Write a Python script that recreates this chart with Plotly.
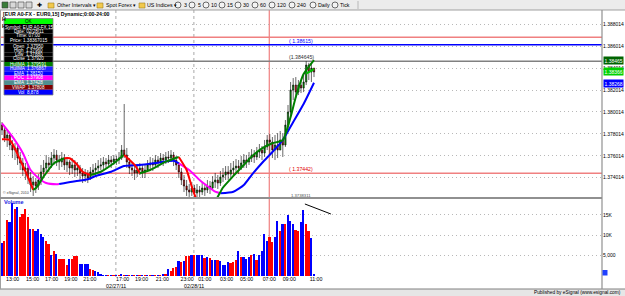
import plotly.graph_objects as go

# ---------------- data (15-minute bars, EUR A0-FX) ----------------
bar_index = list(range(121))

opens = [1.37882,1.37837,1.37764,1.37791,1.37700,1.37654,1.37673,1.37581,1.37536,1.37472,
         1.37490,1.37399,1.37335,1.37363,1.37326,1.37381,1.37454,1.37490,1.37536,1.37518,
         1.37581,1.37609,1.37563,1.37545,1.37581,1.37518,1.37545,1.37490,1.37518,1.37472,
         1.37490,1.37445,1.37417,1.37435,1.37399,1.37454,1.37472,1.37490,1.37508,1.37518,
         1.37545,1.37527,1.37563,1.37545,1.37572,1.37563,1.37581,1.37654,1.37609,1.37545,
         1.37490,1.37472,1.37445,1.37472,1.37490,1.37454,1.37472,1.37518,1.37536,1.37518,
         1.37563,1.37545,1.37581,1.37563,1.37591,1.37581,1.37609,1.37563,1.37518,1.37454,
         1.37381,1.37326,1.37290,1.37271,1.37308,1.37262,1.37290,1.37271,1.37308,1.37290,
         1.37326,1.37308,1.37363,1.37381,1.37353,1.37408,1.37426,1.37454,1.37435,1.37472,
         1.37490,1.37508,1.37490,1.37536,1.37563,1.37545,1.37581,1.37609,1.37591,1.37636,
         1.37654,1.37627,1.37682,1.37746,1.37727,1.37654,1.37700,1.37654,1.37746,1.37700,
         1.37882,1.38001,1.38202,1.38247,1.38183,1.38247,1.38220,1.38275,1.38430,1.38366,1.38402]
highs = [1.37910,1.37864,1.37837,1.37809,1.37746,1.37718,1.37700,1.37636,1.37581,1.37536,
         1.37518,1.37454,1.37417,1.37399,1.37435,1.37518,1.37563,1.37609,1.37591,1.37636,
         1.37663,1.37654,1.37609,1.37636,1.37618,1.37591,1.37563,1.37581,1.37563,1.37545,
         1.37518,1.37490,1.37481,1.37472,1.37499,1.37527,1.37536,1.37563,1.37581,1.37591,
         1.37581,1.37609,1.37600,1.37609,1.37600,1.37636,1.37700,1.38074,1.37673,1.37581,
         1.37536,1.37518,1.37527,1.37536,1.37518,1.37527,1.37563,1.37591,1.37581,1.37609,
         1.37600,1.37627,1.37618,1.37636,1.37645,1.37654,1.37636,1.37600,1.37545,1.37490,
         1.37426,1.37381,1.37344,1.37363,1.37335,1.37344,1.37326,1.37363,1.37344,1.37381,
         1.37372,1.37417,1.37445,1.37426,1.37463,1.37490,1.37508,1.37508,1.37536,1.37554,
         1.37572,1.37563,1.37600,1.37618,1.37609,1.37636,1.37663,1.37654,1.37682,1.37709,
         1.37691,1.37746,1.37791,1.37800,1.37773,1.37791,1.37809,1.37828,1.37809,1.37928,
         1.38065,1.38275,1.38311,1.38320,1.38293,1.38293,1.38338,1.38465,1.38450,1.38448,1.38402]
lows = [1.37791,1.37727,1.37682,1.37654,1.37581,1.37563,1.37518,1.37472,1.37417,1.37381,
        1.37344,1.37271,1.37235,1.37262,1.37290,1.37335,1.37399,1.37454,1.37454,1.37490,
        1.37518,1.37508,1.37472,1.37499,1.37472,1.37454,1.37426,1.37435,1.37408,1.37417,
        1.37381,1.37353,1.37363,1.37353,1.37381,1.37408,1.37426,1.37445,1.37472,1.37472,
        1.37481,1.37499,1.37490,1.37518,1.37518,1.37527,1.37563,1.37581,1.37490,1.37435,
        1.37417,1.37381,1.37408,1.37426,1.37399,1.37399,1.37454,1.37472,1.37463,1.37490,
        1.37490,1.37518,1.37508,1.37527,1.37536,1.37545,1.37508,1.37472,1.37399,1.37335,
        1.37271,1.37235,1.37226,1.37235,1.37226,1.37226,1.37226,1.37244,1.37235,1.37262,
        1.37253,1.37290,1.37308,1.37299,1.37326,1.37363,1.37381,1.37381,1.37399,1.37426,
        1.37445,1.37435,1.37472,1.37490,1.37490,1.37518,1.37545,1.37536,1.37563,1.37581,
        1.37563,1.37591,1.37654,1.37609,1.37581,1.37563,1.37581,1.37654,1.37591,1.37682,
        1.37837,1.37974,1.38110,1.38129,1.38156,1.38174,1.38183,1.38247,1.38293,1.38275,1.38320]
closes = [1.37837,1.37764,1.37791,1.37700,1.37654,1.37673,1.37581,1.37536,1.37472,1.37490,
          1.37399,1.37335,1.37363,1.37326,1.37381,1.37454,1.37490,1.37536,1.37518,1.37581,
          1.37609,1.37563,1.37545,1.37581,1.37518,1.37545,1.37490,1.37518,1.37472,1.37490,
          1.37445,1.37417,1.37435,1.37399,1.37454,1.37472,1.37490,1.37508,1.37518,1.37545,
          1.37527,1.37563,1.37545,1.37572,1.37563,1.37581,1.37654,1.37609,1.37545,1.37490,
          1.37472,1.37445,1.37472,1.37490,1.37454,1.37472,1.37518,1.37536,1.37518,1.37563,
          1.37545,1.37581,1.37563,1.37591,1.37581,1.37609,1.37563,1.37518,1.37454,1.37381,
          1.37326,1.37290,1.37271,1.37308,1.37262,1.37290,1.37271,1.37308,1.37290,1.37326,
          1.37308,1.37363,1.37381,1.37353,1.37408,1.37426,1.37454,1.37435,1.37472,1.37490,
          1.37508,1.37490,1.37536,1.37563,1.37545,1.37581,1.37609,1.37591,1.37636,1.37654,
          1.37627,1.37682,1.37746,1.37727,1.37654,1.37700,1.37654,1.37746,1.37700,1.37882,
          1.38001,1.38202,1.38247,1.38183,1.38247,1.38220,1.38275,1.38430,1.38366,1.38402,1.38366]

volumes = [8050,8540,13740,13170,17800,16420,16830,14390,15200,16420,
           14390,11540,11540,11140,11540,10330,9510,8700,7890,5040,
           6020,5450,4230,4230,4230,2600,4230,4230,4800,4880,
           2850,2850,2850,2850,1630,1545,1220,975,325,150,
           120,90,150,80,200,110,250,140,100,130,
           90,160,120,180,100,140,220,130,160,110,
           190,150,300,420,1790,1300,2030,2200,3660,3410,
           3740,4800,4800,5040,5040,5040,5040,5040,4310,4630,
           4390,3980,3980,3980,3660,2680,2760,3410,3250,3410,
           3820,6020,4630,4630,4230,4630,5040,5280,3820,5040,
           6020,10330,8700,9510,8290,9510,13580,11140,12760,12760,
           15040,13580,12760,11300,11140,13170,16180,12760,11140,9270,300]
vol_dir = ("brrbbrbrrr" "rbrbbbbrrb" "rbrrrrbrrr" "bbbbrrbbbb"
           "brbrbrbrbr" "brbrbrbrbr" "brbrbrrrbr" "brrbrbbbrb"
           "rbbrbbbbrr" "rbrbbbrbrb" "bbbrrbbrbr" "bbbrrbbrrbb")

# Hull MA (green rising / red falling)
hull_x = [0, 3, 7, 11, 12, 13, 16, 20, 24, 26, 29, 31, 34, 38, 43, 46, 47, 51, 53, 57,
          63, 68, 71, 73, 75, 78, 80, 82, 85, 89, 93, 96, 100, 104, 108, 111, 113, 116, 120]
hull_y = [1.37752, 1.37746, 1.37563, 1.37351, 1.37290, 1.37305, 1.37411, 1.37533, 1.37579,
          1.37579, 1.37518, 1.37456, 1.37426, 1.37456, 1.37533, 1.37593, 1.37609, 1.37518,
          1.37442, 1.37472, 1.37548, 1.37591, 1.37472, 1.37320, 1.37199, 1.37154, 1.37163,
          1.37190, 1.37312, 1.37418, 1.37518, 1.37594, 1.37670, 1.37716, 1.37746, 1.37955,
          1.38138, 1.38348, 1.38475]
hull_dir = "rrrr" "gggg" "rrrr" "gggg" "rr" "ggg" "rrrr" "ggggggggggggg"

# slow average (blue rising / magenta falling)
slow_x = [0, 4, 8, 11, 14, 17, 21, 22, 27, 33, 36, 42, 47, 53, 60, 66, 68, 72, 76, 80,
          82, 84, 89, 93, 96, 100, 104, 108, 112, 116, 120]
slow_y = [1.37898, 1.37776, 1.37627, 1.37472, 1.37399, 1.37353, 1.37342, 1.37344, 1.37365,
          1.37387, 1.37417, 1.37456, 1.37508, 1.37518, 1.37539, 1.37557, 1.37533, 1.37472,
          1.37381, 1.37308, 1.37274, 1.37260, 1.37274, 1.37335, 1.37426, 1.37536, 1.37636,
          1.37746, 1.37910, 1.38074, 1.38268]
slow_dir = "mmmmmmm" "bbbbbbbbb" "mmmmm" "bbbbbbbbb"

fast_tail_x = [117, 120]
fast_tail_y = [1.38352, 1.38392]

level_prices = [1.38683, 1.38615, 1.384645, 1.37442]
level_colors = ["#f08080", "#0000ff", "#808080", "#f08080"]

price_ticks = [1.374014, 1.376014, 1.378014, 1.380014, 1.382014, 1.384014, 1.386014, 1.388014]
vol_ticks = [5000, 10000, 15000]
vol_tick_text = ["5,000", "10K", "15K"]

time_ticks = [4.1, 11.8, 19.1, 26.5, 33.8, 46.4, 53.7, 61.7, 71.2, 78.0, 86.4, 94.1, 102.8, 110.5, 120.8]
time_labels = ["13:00", "15:00", "17:00", "19:00", "21:00", "17:00", "19:00", "21:00",
               "23:00", "01:00", "03:00", "05:00", "07:00", "09:00", "11:00"]
day_breaks = [43.8, 73.8]
day_labels = ["02/27/11", "02/28/11"]
session_line = 102.8

trend_x = [116.5, 126.5]
trend_v = [17650, 15200]

# ---------------- geometry helpers (layout only) ----------------
W, H = 625, 296
ML, MR, MT, MB = 0, 23, 10, 20
PW, PH = W - ML - MR, H - MT - MB
FONT = "Liberation Sans, Arial, sans-serif"
GRID = "#b8b8b8"


def X(px):
    return (px - ML) / PW


def Y(py):
    return (H - MB - py) / PH


SPLIT = Y(198)

fig = go.Figure()

fig.add_trace(go.Candlestick(
    x=bar_index, open=opens, high=highs, low=lows, close=closes,
    xaxis="x", yaxis="y", whiskerwidth=0, hoverinfo="skip",
    increasing=dict(line=dict(color="#000000", width=0.6), fillcolor="#00b000"),
    decreasing=dict(line=dict(color="#000000", width=0.6), fillcolor="#e00000"),
))

cmap = {"r": "#ff0000", "g": "#008000", "m": "#ff00ff", "b": "#0000ff"}


def add_colored_line(xs, ys, codes, width):
    n = len(codes)
    k = 0
    while k < n:
        j = k
        while j + 1 < n and codes[j + 1] == codes[k]:
            j += 1
        fig.add_trace(go.Scatter(x=xs[k:j + 2], y=ys[k:j + 2], mode="lines",
                                 line=dict(color=cmap[codes[k]], width=width, shape="spline", smoothing=0.6),
                                 xaxis="x", yaxis="y", hoverinfo="skip"))
        k = j + 1


add_colored_line(slow_x, slow_y, slow_dir, 2)
add_colored_line(hull_x, hull_y, hull_dir, 2)
fig.add_trace(go.Scatter(x=fast_tail_x, y=fast_tail_y, mode="lines",
                         line=dict(color="#00c000", width=2), xaxis="x", yaxis="y", hoverinfo="skip"))

fig.add_trace(go.Bar(
    x=bar_index, y=volumes, xaxis="x", yaxis="y2", width=0.62, hoverinfo="skip",
    marker=dict(color=["#0000ff" if d == "b" else "#ff0000" for d in vol_dir], line=dict(width=0)),
))

shapes = []
# toolbar background
shapes.append(dict(type="rect", xref="paper", yref="paper", x0=X(0), x1=X(625), y0=Y(10), y1=Y(0),
                   fillcolor="#ececec", line=dict(width=0), layer="above"))
shapes.append(dict(type="line", xref="paper", yref="paper", x0=X(0), x1=X(625), y0=Y(10), y1=Y(10),
                   line=dict(color="#a0a0a0", width=1), layer="above"))
shapes.append(dict(type="line", xref="paper", yref="paper", x0=X(358), x1=X(358), y0=Y(1), y1=Y(9),
                   line=dict(color="#b8b8b8", width=1), layer="above"))
# status bar
shapes.append(dict(type="rect", xref="paper", yref="paper", x0=X(0), x1=X(625), y0=Y(296), y1=Y(289),
                   fillcolor="#e6e6e6", line=dict(width=0), layer="above"))
shapes.append(dict(type="line", xref="paper", yref="paper", x0=X(0), x1=X(625), y0=Y(289), y1=Y(289),
                   line=dict(color="#808080", width=1), layer="above"))
# right axis line and left border
shapes.append(dict(type="line", xref="paper", yref="paper", x0=X(602), x1=X(602), y0=Y(289), y1=Y(10),
                   line=dict(color="#909090", width=1.2), layer="above"))
shapes.append(dict(type="line", xref="paper", yref="paper", x0=X(0.5), x1=X(0.5), y0=Y(289), y1=Y(10),
                   line=dict(color="#a0a0a0", width=1), layer="above"))
# pane separator
shapes.append(dict(type="line", xref="paper", yref="paper", x0=0, x1=X(602), y0=SPLIT, y1=SPLIT,
                   line=dict(color="#909090", width=2), layer="above"))
# day separators and session line
for d in day_breaks:
    shapes.append(dict(type="line", xref="x", yref="paper", x0=d, x1=d, y0=Y(277), y1=Y(10),
                       line=dict(color="#a8a8a8", width=1, dash="3px,3px"), layer="below"))
shapes.append(dict(type="line", xref="x", yref="paper", x0=session_line, x1=session_line, y0=0, y1=Y(10),
                   line=dict(color="#f08080", width=1.2), layer="below"))
# horizontal levels
for p, c in zip(level_prices, level_colors):
    shapes.append(dict(type="line", xref="paper", yref="y", x0=0, x1=1, y0=p, y1=p,
                       line=dict(color=c, width=1.5), layer="below"))
# trend line in volume pane
shapes.append(dict(type="line", xref="x", yref="y2", x0=trend_x[0], x1=trend_x[1], y0=trend_v[0], y1=trend_v[1],
                   line=dict(color="#000000", width=1), layer="above"))

# toolbar icons
for x0, c in [(2, "#3a7d3a"), (10, "#d8d8d8"), (18, "#d8d8d8"), (26, "#d8d8d8")]:
    shapes.append(dict(type="rect", xref="paper", yref="paper", x0=X(x0), x1=X(x0 + 6), y0=Y(8), y1=Y(2),
                       fillcolor=c, line=dict(color="#404040", width=0.6), layer="above"))
for x0 in [48, 97, 139]:
    shapes.append(dict(type="rect", xref="paper", yref="paper", x0=X(x0), x1=X(x0 + 6), y0=Y(8), y1=Y(3),
                       fillcolor="#f2c94c", line=dict(color="#a08020", width=0.6), layer="above"))
for cx in [178, 192, 206, 222, 238, 255, 272, 292, 313, 335]:
    shapes.append(dict(type="circle", xref="paper", yref="paper", x0=X(cx - 3), x1=X(cx + 3), y0=Y(8), y1=Y(2),
                       fillcolor="#f4f4f4", line=dict(color="#303030", width=0.7), layer="above"))

# data-window legend box
legend_rows = [
    (21.3, 18.5, 24.0, "#00ff00", "OK", "#000000"),
    (27.0, 24.0, 29.3, "#000000", "Symbol: EUR A0-FX,15", "#ffffff"),
    (31.5, 29.3, 33.7, "#000000", "Date: 02/28/11", "#ffffff"),
    (35.7, 33.7, 37.9, "#000000", "Time: 07:00", "#ffffff"),
    (40.0, 37.9, 43.5, "#000000", "Price: 1.38367015", "#ffffff"),
    (46.0, 43.5, 48.0, "#000000", "Open  1.37950", "#ffffff"),
    (50.0, 48.0, 52.2, "#000000", "High  1.37960", "#ffffff"),
    (54.3, 52.2, 56.5, "#000000", "Low  1.37880", "#ffffff"),
    (58.7, 56.5, 62.0, "#000000", "Close  1.37920", "#ffffff"),
    (64.3, 62.0, 66.6, "#008000", "HullMA  1.379591", "#ffffff"),
    (68.9, 66.6, 71.2, "#2020ff", "HullMA  1.376867", "#ffffff"),
    (73.4, 71.2, 75.6, "#0000ff", "EMA  1.38150", "#ffffff"),
    (77.8, 75.6, 80.2, "#ff00ff", "POC  1.37908", "#ffffff"),
    (82.6, 80.2, 85.0, "#4f8f8f", "EMA  1.37428", "#ffffff"),
    (87.4, 85.0, 89.8, "#800000", "VWAP  1.37808", "#ffffff"),
    (92.5, 89.8, 95.0, "#0000ff", "Vol  8,878", "#ffffff"),
]
for _, y0, y1, bg, _, _ in legend_rows:
    shapes.append(dict(type="rect", xref="paper", yref="paper", x0=X(4), x1=X(53), y0=Y(y1), y1=Y(y0),
                       fillcolor=bg, line=dict(width=0), layer="above"))
shapes.append(dict(type="rect", xref="paper", yref="paper", x0=X(4), x1=X(53), y0=Y(95), y1=Y(18.5),
                   fillcolor="rgba(0,0,0,0)", line=dict(color="#808080", width=0.8), layer="above"))
# small blue icon bottom-right
shapes.append(dict(type="rect", xref="paper", yref="paper", x0=X(602.5), x1=X(607.5), y0=Y(275.5), y1=Y(270),
                   fillcolor="#2040ff", line=dict(width=0), layer="above"))

ann = []


def txt(px, py, s, size=5.5, color="#000000", xanchor="left", bg=None, bold=False, xref="paper", yref="paper"):
    ann.append(dict(
        x=X(px) if xref == "paper" else px, y=Y(py) if yref == "paper" else py,
        xref=xref, yref=yref, text=("<b>%s</b>" % s) if bold else s, showarrow=False,
        xanchor=xanchor, yanchor="middle", font=dict(family=FONT, size=size, color=color),
        bgcolor=bg, borderpad=0.5 if bg else 0,
    ))


# toolbar text
for px, s in [(55.5, "Other Intervals ▾"), (104.5, "Spot Forex ▾"), (146, "US Indices ▾"),
              (182.5, "3"), (196.5, "5"), (210, "10"), (226, "15"), (242, "30"), (259, "60"),
              (276, "120"), (296, "240"), (317, "Daily"), (339, "Tick")]:
    txt(px, 5.2, s, size=5.3)
txt(36, 5.2, "✚", size=5.5)

# chart header
txt(1.5, 14.2, "[EUR A0-FX - EUR0,15] Dynamic;0:00-24:00", size=5.2, bold=True)
txt(0.5, 19.0, "H", size=5.2, bold=True)
txt(0.5, 25.5, "H", size=5.2, bold=True)

for yc, _, _, _, s, c in legend_rows:
    txt(28.5, yc, s, size=4.6, color=c, xanchor="center")

txt(2, 192.5, "© eSignal, 2010", size=3.6, color="#404040")
txt(2.5, 202.5, "Volume", size=5.5, color="#2020e0", bold=True)

# level labels
txt(115, 1.38650, "( 1.38615)", size=5.2, color="#0000ff", xanchor="center", xref="x", yref="y")
txt(115, 1.38500, "(1.384645)", size=5.2, color="#303030", xanchor="center", xref="x", yref="y")
txt(115, 1.37478, "( 1.37442)", size=5.2, color="#e00000", xanchor="center", xref="x", yref="y")
txt(115, 1.37235, "1.3738311", size=4.2, color="#505050", xanchor="center", xref="x", yref="y")

# right-side price boxes
txt(603, 60.0, "1.38465", size=5.0, color="#ffffff", bg="#006400")
txt(603, 71.2, "1.38366", size=5.0, color="#ffffff", bg="#00d000")
txt(603, 83.3, "1.38268", size=5.0, color="#ffffff", bg="#0000ff")

# date labels under the time axis
for d, s in zip(day_breaks, day_labels):
    txt(d, 285.8, s, size=5.3, xanchor="center", xref="x")

txt(622, 292.6, "Published by eSignal (www.esignal.com)", size=4.8, xanchor="right")

fig.update_layout(
    width=W, height=H, margin=dict(l=ML, r=MR, t=MT, b=MB),
    paper_bgcolor="#ffffff", plot_bgcolor="#ffffff", showlegend=False,
    shapes=shapes, annotations=ann,
    xaxis=dict(domain=[0, 1], range=[-2 / 2.6, 600 / 2.6], anchor="y2",
               tickvals=time_ticks, ticktext=time_labels, tickfont=dict(family=FONT, size=5.3, color="#000000"),
               showgrid=False, zeroline=False, showline=False, ticks="", ticklabelstandoff=-1,
               rangeslider=dict(visible=False), fixedrange=True),
    yaxis=dict(domain=[SPLIT, 1], range=[1.372165, 1.389319], side="right", anchor="x",
               tickvals=price_ticks, ticktext=["%.6f" % v for v in price_ticks],
               tickfont=dict(family=FONT, size=5.0, color="#000000"),
               showgrid=True, gridcolor=GRID, griddash="1px,3px", gridwidth=1,
               zeroline=False, showline=False, ticks="", fixedrange=True),
    yaxis2=dict(domain=[0, SPLIT], range=[0, 19118], side="right", anchor="x",
                tickvals=vol_ticks, ticktext=vol_tick_text,
                tickfont=dict(family=FONT, size=5.0, color="#000000"),
                showgrid=True, gridcolor=GRID, griddash="1px,3px", gridwidth=1,
                zeroline=False, showline=False, ticks="", fixedrange=True),
    bargap=0,
)

fig.write_html("out.html")
